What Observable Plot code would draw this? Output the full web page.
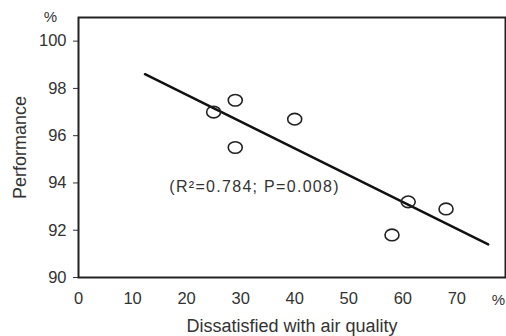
<!DOCTYPE html>
<html>
<head>
<meta charset="utf-8">
<script src="https://cdn.jsdelivr.net/npm/d3@7"></script>
<script src="https://cdn.jsdelivr.net/npm/@observablehq/plot@0.6"></script>
<style>
  html, body { margin: 0; padding: 0; background: #fff; }
  #chart { width: 506px; height: 336px; }
</style>
</head>
<body>
<div id="chart"></div>
<script>
// Data
const dissatisfied = [25, 29, 29, 40, 61, 68, 58];
const performance = [97.0, 97.5, 95.5, 96.7, 93.2, 92.9, 91.8];
const fitX = [12.3, 75.8];
const fitY = [98.6, 91.4];
const xTicks = [0, 10, 20, 30, 40, 50, 60, 70];
const yTicks = [90, 92, 94, 96, 98, 100];
const annX = [16.8];
const annY = [93.85];
const annText = ["(R\u00B2=0.784; P=0.008)"];

const points = dissatisfied.map((x, i) => ({x, y: performance[i]}));
const fit = fitX.map((x, i) => ({x, y: fitY[i]}));

// ellipse symbol (slightly wider than tall, as in the reference)
const ellipse = {
  draw(ctx, size) {
    const rx = 7, ry = 5.8, k = 0.5523;
    ctx.moveTo(rx, 0);
    ctx.bezierCurveTo(rx, ry * k, rx * k, ry, 0, ry);
    ctx.bezierCurveTo(-rx * k, ry, -rx, ry * k, -rx, 0);
    ctx.bezierCurveTo(-rx, -ry * k, -rx * k, -ry, 0, -ry);
    ctx.bezierCurveTo(rx * k, -ry, rx, -ry * k, rx, 0);
    ctx.closePath();
  }
};

const chart = Plot.plot({
  width: 506,
  height: 336,
  marginLeft: 78,
  marginTop: 17,
  marginRight: 1,
  marginBottom: 59,
  style: {fontFamily: "'Liberation Sans', Arial, sans-serif", background: "#fff", color: "#333"},
  x: {domain: [0, 79]},
  y: {domain: [90, 101]},
  marks: [
    Plot.axisY(yTicks, {tickSize: 5, tickPadding: 7, fontSize: 16.5, label: "Performance", labelArrow: "none", labelAnchor: "center", labelOffset: 65, stroke: "#333"}),
    Plot.axisX(xTicks, {tickSize: 0, tickPadding: 15, fontSize: 16.5, label: "Dissatisfied with air quality", labelArrow: "none", labelAnchor: "center", labelOffset: 54}),
    Plot.text(["%"], {frameAnchor: "top-left", textAnchor: "middle", lineAnchor: "middle", dx: -28, dy: 0, fontSize: 15, fill: "#333"}),
    Plot.text(["%"], {frameAnchor: "bottom-right", textAnchor: "middle", lineAnchor: "middle", dx: -7, dy: 23, fontSize: 15, fill: "#333"}),
    Plot.frame({stroke: "#222", strokeWidth: 2}),
    Plot.line(fit, {x: "x", y: "y", stroke: "#111", strokeWidth: 2.5}),
    Plot.dot(points, {x: "x", y: "y", symbol: ellipse, stroke: "#222", strokeWidth: 1.6, fill: "none"}),
    Plot.text(annText, {x: annX, y: annY, text: d => d, textAnchor: "start", fontSize: 16, fill: "#333", className: "ann"})
  ]
});
chart.querySelectorAll("g[aria-label='y-axis label'] text, g[aria-label='x-axis label'] text").forEach(t => {
  t.setAttribute("font-size", "18");
  t.textContent = t.textContent.replace(/[\u2190-\u2193]/g, "").trim();
});
chart.querySelectorAll(".ann text, text.ann, g.ann text").forEach(t => t.setAttribute("letter-spacing", "1.3"));
document.getElementById("chart").appendChild(chart);
</script>
</body>
</html>
